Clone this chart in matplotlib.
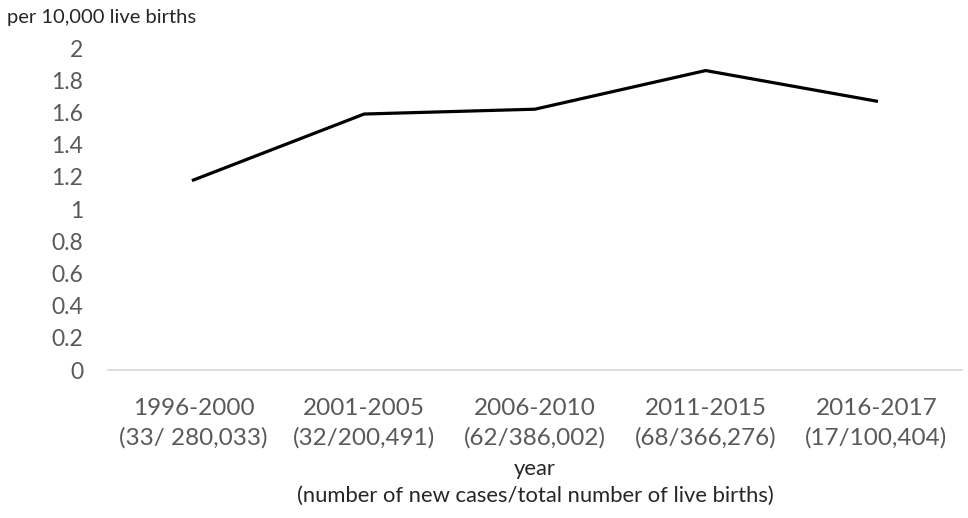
import matplotlib.pyplot as plt

plt.rcParams['font.family'] = ['Lato', 'DejaVu Sans']

periods = ['1996-2000', '2001-2005', '2006-2010', '2011-2015', '2016-2017']
counts = ['(33/ 280,033)', '(32/200,491)', '(62/386,002)', '(68/366,276)', '(17/100,404)']
rate = [1.18, 1.59, 1.62, 1.86, 1.67]

grey = '#595959'

fig = plt.figure(figsize=(9.68, 5.18), dpi=100)
ax = fig.add_axes([0.1116, 0.2857, 0.882, 0.6216])

x = range(len(periods))
ax.plot(x, rate, color='black', lw=2.3)

ax.set_xlim(-0.5, len(periods) - 0.5)
ax.set_ylim(0, 2)
ax.set_yticks([i / 5 for i in range(11)])
ax.set_yticklabels(['0', '0.2', '0.4', '0.6', '0.8', '1', '1.2', '1.4', '1.6', '1.8', '2'])
ax.set_xticks(list(x))
ax.set_xticklabels([p + '\n' + c for p, c in zip(periods, counts)], linespacing=1.45)

for s in ['top', 'right', 'left']:
    ax.spines[s].set_visible(False)
ax.spines['bottom'].set_color('#d9d9d9')
ax.spines['bottom'].set_linewidth(1.2)
ax.tick_params(axis='both', length=0, colors=grey)
ax.tick_params(axis='y', pad=18, labelsize=16.5)
ax.tick_params(axis='x', pad=20, labelsize=17.5)

ax.set_xlabel('year\n(number of new cases/total number of live births)',
              color='#262626', fontsize=15.8, labelpad=8, linespacing=1.4)
fig.text(0.007, 0.966, 'per 10,000 live births', color='#262626', fontsize=14.5, va='center')

plt.savefig('out.png')
